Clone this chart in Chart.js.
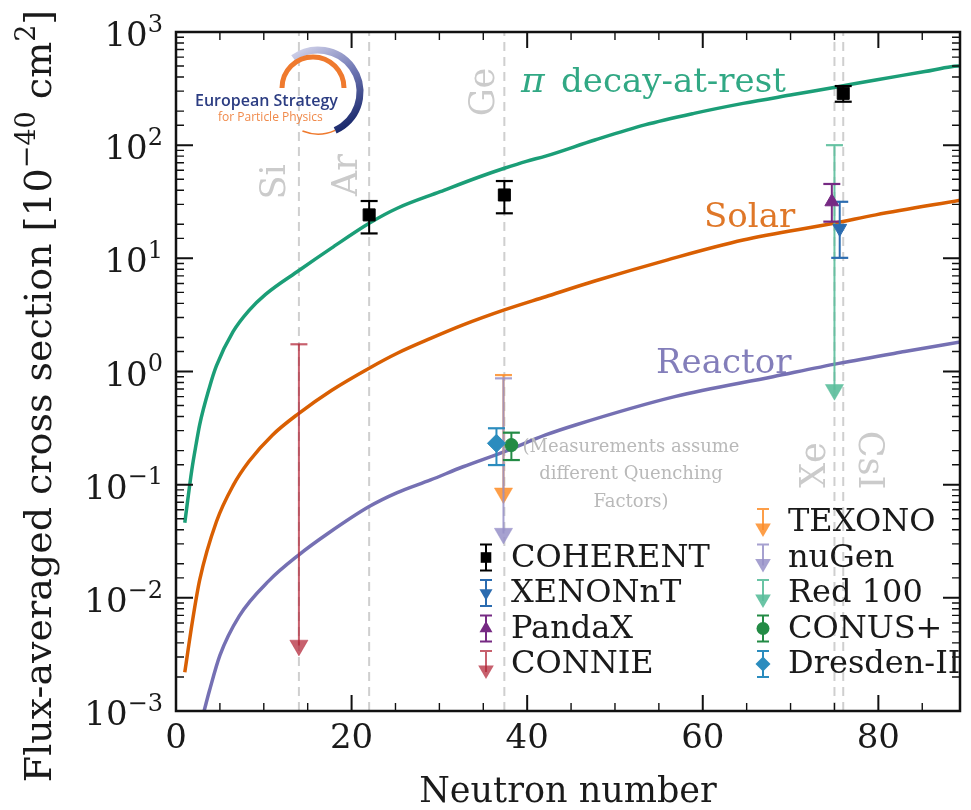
<!DOCTYPE html>
<html>
<head>
<meta charset="utf-8">
<title>CEvNS flux-averaged cross sections</title>
<script src="https://cdn.jsdelivr.net/npm/chart.js@4.4.1/dist/chart.umd.min.js"></script>
<style>
  html, body { margin: 0; padding: 0; background: #ffffff; }
  #wrap { width: 971px; height: 810px; }
</style>
</head>
<body>
<div id="wrap"><canvas id="xsecChart" width="971" height="810"></canvas></div>
<script>
// flux-averaged cross section [1e-40 cm^2] vs neutron number, per neutrino source
var darN = [1, 1.8, 2.3, 2.7, 3.8, 4.6, 6.5, 8.3, 10.2, 14, 17.7, 22, 25.2, 30.1, 34.6, 37.4, 39.9, 42.1, 47.7, 53.4, 59, 64.6, 70.3, 75.1, 79.7, 85.3, 88.3, 89.5];
var darXsec = [0.046, 0.135, 0.23, 0.34, 0.72, 1.12, 2.25, 3.45, 4.8, 7.8, 12.3, 20.4, 27.7, 38.8, 52.6, 62.5, 72, 80, 111, 151, 191, 234, 280, 325, 377, 447, 493, 503];

var solarN = [1, 1.9, 2.7, 4.6, 6.5, 8.3, 11, 14, 17.7, 22, 25.2, 29, 32.7, 37.4, 42.1, 47.7, 56, 64.6, 75.1, 79.7, 89.5];
var solarXsec = [0.0022, 0.0064, 0.0144, 0.047, 0.098, 0.16, 0.275, 0.427, 0.68, 1.07, 1.45, 1.96, 2.58, 3.5, 4.58, 6.3, 9.7, 14.5, 20.5, 24.2, 32.8];

var reactorN = [3.2, 3.8, 5, 7.2, 10.6, 14, 17.3, 22, 25.2, 29, 32.7, 37.4, 42.1, 45.5, 56.8, 68, 75.5, 83, 89.5];
var reactorXsec = [0.001, 0.0015, 0.0031, 0.0069, 0.0142, 0.024, 0.037, 0.064, 0.085, 0.11, 0.144, 0.196, 0.275, 0.337, 0.6, 0.9, 1.18, 1.5, 1.83];

// target nuclei
var targetNames = ['Si', 'Ar', 'Ge', 'Xe', 'CsI'];
var targetN = [14, 22, 37.4, 75, 76];

// measurements (central value with error bars)
var coherentN = [22, 37.4, 76];
var coherentVal = [24.2, 36.3, 287];
var coherentLow = [16.6, 25, 242];
var coherentHigh = [32.1, 48.2, 333];

var xenonntN = [75.6];
var xenonntVal = [18.4];
var xenonntLow = [10.1];
var xenonntHigh = [31.6];

var pandaxN = [74.7];
var pandaxVal = [31.6];
var pandaxLow = [21.1];
var pandaxHigh = [45.4];

var conusN = [38.2];
var conusVal = [0.224];
var conusLow = [0.165];
var conusHigh = [0.288];

var dresdenN = [36.5];
var dresdenVal = [0.232];
var dresdenLow = [0.149];
var dresdenHigh = [0.315];

// upper limits (limit value, arrow drawn down to)
var connieN = [14];
var connieLimit = [1.74];
var connieArrow = [0.0038];

var texonoN = [37.3];
var texonoLimit = [0.93];
var texonoArrow = [0.084];

var nugenN = [37.3];
var nugenLimit = [0.87];
var nugenArrow = [0.037];

var red100N = [75];
var red100Limit = [100];
var red100Arrow = [0.69];

// axis ticks
var xMajorTicks = [0, 20, 40, 60, 80];
var yExponents = [-3, -2, -1, 0, 1, 2, 3];

var legendLeft = ['COHERENT', 'XENONnT', 'PandaX', 'CONNIE'];
var legendRight = ['TEXONO', 'nuGen', 'Red 100', 'CONUS+', 'Dresden-II'];

var serif = "'DejaVu Serif', serif";
var GREEN = '#1b9e77', ORANGE = '#d95f02', PURPLE = '#7570b3';

var looks = {
  'COHERENT':   { color: '#000000', style: 'rect', radius: 8.5 },
  'XENONnT':    { color: '#2b6cb0', style: 'triangle', radius: 8, rotation: 180 },
  'PandaX':     { color: '#762a83', style: 'triangle', radius: 8 },
  'CONNIE':     { color: 'rgba(178, 34, 52, 0.72)', limit: true },
  'TEXONO':     { color: 'rgba(253, 141, 40, 0.85)', limit: true },
  'nuGen':      { color: 'rgba(150, 145, 200, 0.85)', limit: true },
  'Red 100':    { color: 'rgba(90, 190, 155, 0.9)', limit: true },
  'CONUS+':     { color: '#238b45', style: 'circle', radius: 6.5 },
  'Dresden-II': { color: '#2b8cbe', style: 'rectRot', radius: 9 }
};

function pairs(xs, ys) {
  return xs.map(function (x, i) { return { x: x, y: ys[i] }; });
}

var datasets = [];

// dashed guide line for every target nucleus
targetN.forEach(function (n, i) {
  datasets.push({
    label: targetNames[i],
    data: [{ x: n, y: 1e-3 }, { x: n, y: 1e3 }],
    showLine: true,
    borderColor: '#cfcfcf',
    borderWidth: 2,
    borderDash: [9, 6],
    pointRadius: 0,
    order: 40
  });
});

function curve(label, xs, ys, color) {
  datasets.push({
    label: label,
    data: pairs(xs, ys),
    showLine: true,
    borderColor: color,
    borderWidth: 3.5,
    pointRadius: 0,
    cubicInterpolationMode: 'monotone',
    order: 30
  });
}
curve('pi decay-at-rest', darN, darXsec, GREEN);
curve('Solar', solarN, solarXsec, ORANGE);
curve('Reactor', reactorN, reactorXsec, PURPLE);

function errorBars(name, xs, lows, highs) {
  var color = looks[name].color;
  xs.forEach(function (n, i) {
    datasets.push({
      label: name + ' band',
      data: [{ x: n, y: lows[i] }, { x: n, y: highs[i] }],
      showLine: true,
      borderColor: color,
      borderWidth: 2,
      pointStyle: 'line',
      pointRadius: 8.5,
      pointBorderWidth: 2.2,
      pointBorderColor: color,
      pointBackgroundColor: color,
      order: 10
    });
  });
}

function markers(name, xs, vals) {
  var lk = looks[name];
  datasets.push({
    label: name,
    data: pairs(xs, vals),
    pointStyle: lk.style,
    pointRadius: lk.radius,
    pointRotation: lk.rotation || 0,
    pointBackgroundColor: lk.color,
    pointBorderColor: lk.color,
    pointBorderWidth: 1,
    order: 5
  });
}

function upperLimits(name, xs, limits, arrows) {
  var color = looks[name].color;
  xs.forEach(function (n, i) {
    datasets.push({
      label: name,
      data: [{ x: n, y: arrows[i] }, { x: n, y: limits[i] }],
      showLine: true,
      borderColor: color,
      borderWidth: 2,
      pointStyle: ['triangle', 'line'],
      pointRotation: [180, 0],
      pointRadius: [10.5, 8.5],
      pointBorderWidth: [0.5, 2.2],
      pointBorderColor: color,
      pointBackgroundColor: color,
      order: 12
    });
  });
}

upperLimits('CONNIE', connieN, connieLimit, connieArrow);
upperLimits('nuGen', nugenN, nugenLimit, nugenArrow);
upperLimits('TEXONO', texonoN, texonoLimit, texonoArrow);
upperLimits('Red 100', red100N, red100Limit, red100Arrow);

errorBars('COHERENT', coherentN, coherentLow, coherentHigh);
markers('COHERENT', coherentN, coherentVal);
errorBars('XENONnT', xenonntN, xenonntLow, xenonntHigh);
markers('XENONnT', xenonntN, xenonntVal);
errorBars('PandaX', pandaxN, pandaxLow, pandaxHigh);
markers('PandaX', pandaxN, pandaxVal);
errorBars('Dresden-II', dresdenN, dresdenLow, dresdenHigh);
markers('Dresden-II', dresdenN, dresdenVal);
errorBars('CONUS+', conusN, conusLow, conusHigh);
markers('CONUS+', conusN, conusVal);

// small shape drawer for the legend glyphs
function glyph(c, style, x, y, r, rot) {
  c.beginPath();
  if (style === 'rect') {
    var s = r * Math.SQRT1_2;
    c.rect(x - s, y - s, 2 * s, 2 * s);
  } else if (style === 'circle') {
    c.arc(x, y, r, 0, Math.PI * 2);
  } else if (style === 'rectRot') {
    c.moveTo(x, y - r); c.lineTo(x + r, y); c.lineTo(x, y + r); c.lineTo(x - r, y); c.closePath();
  } else if (style === 'triangle') {
    var a = (rot || 0) * Math.PI / 180;
    for (var k = 0; k < 3; k++) {
      var ang = a + k * 2 * Math.PI / 3;
      var px = x + Math.sin(ang) * r, py = y - Math.cos(ang) * r;
      if (k === 0) c.moveTo(px, py); else c.lineTo(px, py);
    }
    c.closePath();
  }
  c.fill();
}

function supText(c, parts, x, y, size) {
  // parts: [text, isSuperscript]; drawn left to right from x on baseline y
  var cx = x;
  parts.forEach(function (p) {
    c.font = (p[1] ? Math.round(size * 0.7) : size) + 'px ' + serif;
    c.fillText(p[0], cx, p[1] ? y - size * 0.42 : y);
    cx += c.measureText(p[0]).width;
  });
  return cx - x;
}

function supWidth(c, parts, size) {
  var w = 0;
  parts.forEach(function (p) {
    c.font = (p[1] ? Math.round(size * 0.7) : size) + 'px ' + serif;
    w += c.measureText(p[0]).width;
  });
  return w;
}

var decorations = {
  id: 'decorations',
  afterDatasetsDraw: function (chart) {
    var c = chart.ctx, a = chart.chartArea, xs = chart.scales.x, ys = chart.scales.y;
    c.save();

    // inward ticks on all four spines
    c.strokeStyle = '#111';
    ys.ticks.forEach(function (t) {
      var p = ys.getPixelForValue(t.value);
      var e = Math.log10(t.value);
      var major = Math.abs(e - Math.round(e)) < 1e-6;
      var len = major ? 17 : 8;
      c.lineWidth = major ? 2 : 1.4;
      c.beginPath();
      c.moveTo(a.left, p); c.lineTo(a.left + len, p);
      c.moveTo(a.right, p); c.lineTo(a.right - len, p);
      c.stroke();
    });
    xs.ticks.forEach(function (t) {
      var p = xs.getPixelForValue(t.value);
      var major = xMajorTicks.indexOf(t.value) >= 0;
      var len = major ? 16 : 8;
      c.lineWidth = major ? 2 : 1.4;
      c.beginPath();
      c.moveTo(p, a.bottom); c.lineTo(p, a.bottom - len);
      c.moveTo(p, a.top); c.lineTo(p, a.top + len);
      c.stroke();
    });
    c.lineWidth = 2.5;
    c.strokeRect(a.left, a.top, a.right - a.left, a.bottom - a.top);

    // y tick labels 10^n
    c.fillStyle = '#1a1a1a';
    c.textBaseline = 'alphabetic';
    c.textAlign = 'left';
    yExponents.forEach(function (e) {
      var p = ys.getPixelForValue(Math.pow(10, e));
      var parts = [['10', false], [e < 0 ? '\u2212' + (-e) : String(e), true]];
      var w = supWidth(c, parts, 34);
      supText(c, parts, a.left - 13 - w, p + 14, 34);
    });

    // y axis title
    var title = [['Flux-averaged cross section [10', false], ['\u221240', true], [' cm', false], ['2', true], [']', false]];
    c.save();
    c.translate(51, 396);
    c.rotate(-Math.PI / 2);
    var tw = supWidth(c, title, 38);
    supText(c, title, -tw / 2, 0, 38);
    c.restore();

    // target nucleus names along the guide lines
    c.fillStyle = '#cbcbcb';
    c.font = '35px ' + serif;
    c.textAlign = 'center';
    c.textBaseline = 'middle';
    var namePos = [[-23, 182, -1], [-21, 175, -1], [-19, 92, -1], [-19, 465, -1], [25, 460, 1]];
    targetN.forEach(function (n, i) {
      var px = xs.getPixelForValue(n) + namePos[i][0];
      c.save();
      c.translate(px, namePos[i][1]);
      c.rotate(namePos[i][2] * Math.PI / 2);
      c.fillText(targetNames[i], 0, 0);
      c.restore();
    });

    // curve labels
    c.textAlign = 'left';
    c.textBaseline = 'alphabetic';
    c.fillStyle = 'rgba(27, 158, 119, 0.9)';
    c.font = 'italic 36px ' + serif;
    c.fillText('\u03c0', 521, 92);
    c.font = '34px ' + serif;
    c.fillText('decay-at-rest', 561, 92);
    c.fillStyle = 'rgba(217, 95, 2, 0.85)';
    c.fillText('Solar', 704, 227);
    c.fillStyle = 'rgba(117, 112, 179, 0.9)';
    c.fillText('Reactor', 656, 373);

    // quenching note
    c.fillStyle = '#b9b9b9';
    c.font = '18px ' + serif;
    c.textAlign = 'center';
    c.textBaseline = 'middle';
    c.fillText('(Measurements assume', 631, 447);
    c.fillText('different Quenching', 631, 474);
    c.fillText('Factors)', 631, 502);

    c.restore();
  },
  afterDraw: function (chart) {
    var c = chart.ctx;
    c.save();

    // European Strategy logo
    var grad = c.createLinearGradient(295, 50, 340, 130);
    grad.addColorStop(0, '#d2d3ea');
    grad.addColorStop(0.5, '#6f77b4');
    grad.addColorStop(1, '#1c2b6e');
    c.strokeStyle = grad;
    c.lineWidth = 7;
    c.beginPath();
    c.arc(318, 92, 42, -2.2, 1.15);
    c.stroke();
    c.strokeStyle = '#ef7a2e';
    c.lineWidth = 5;
    c.beginPath();
    c.arc(313, 88, 31, Math.PI, 2 * Math.PI);
    c.stroke();
    c.lineWidth = 1.5;
    c.beginPath();
    c.arc(318, 92, 42, 1.15, 1.95);
    c.stroke();
    c.textAlign = 'left';
    c.textBaseline = 'alphabetic';
    c.fillStyle = '#2c3d82';
    c.font = '600 16px "Open Sans"';
    c.fillText('European Strategy', 195, 106);
    c.fillStyle = '#f08a4b';
    c.font = '12px "Open Sans"';
    c.fillText('for Particle Physics', 218, 121);

    // legend, two columns aligned at the bottom row
    function entry(name, mx, my) {
      var lk = looks[name];
      c.strokeStyle = lk.color;
      c.fillStyle = lk.color;
      c.lineWidth = 2;
      c.beginPath();
      c.moveTo(mx, my - 13); c.lineTo(mx, lk.limit ? my + 8 : my + 13);
      c.moveTo(mx - 6, my - 13); c.lineTo(mx + 6, my - 13);
      if (!lk.limit) { c.moveTo(mx - 6, my + 13); c.lineTo(mx + 6, my + 13); }
      c.stroke();
      if (lk.limit) glyph(c, 'triangle', mx, my + 6, 9, 180);
      else glyph(c, lk.style, mx, my, Math.min(lk.radius, 7.5), lk.rotation);
      c.fillStyle = '#1a1a1a';
      c.font = '32px ' + serif;
      c.textBaseline = 'middle';
      c.fillText(name, mx + 25, my + 1);
    }
    var step = 35.5, base = 664;
    legendLeft.forEach(function (name, i) {
      entry(name, 486, base - (legendLeft.length - 1 - i) * step);
    });
    legendRight.forEach(function (name, i) {
      entry(name, 763, base - (legendRight.length - 1 - i) * step);
    });

    c.restore();
  }
};

new Chart(document.getElementById('xsecChart').getContext('2d'), {
  type: 'scatter',
  data: { datasets: datasets },
  options: {
    responsive: false,
    animation: false,
    devicePixelRatio: 1,
    events: [],
    layout: { padding: { top: 32, right: 1, left: 0, bottom: 0 } },
    plugins: {
      legend: { display: false },
      tooltip: { enabled: false }
    },
    scales: {
      x: {
        type: 'linear',
        min: 0,
        max: 89.3,
        afterFit: function (s) { s.height = 99; },
        grid: { display: false, drawTicks: false },
        border: { display: false },
        ticks: {
          stepSize: 5,
          includeBounds: false,
          autoSkip: false,
          maxRotation: 0,
          padding: 8,
          color: '#1a1a1a',
          font: { family: serif, size: 34 },
          callback: function (v) { return xMajorTicks.indexOf(v) >= 0 ? String(v) : ''; }
        },
        title: {
          display: true,
          text: 'Neutron number',
          color: '#1a1a1a',
          font: { family: serif, size: 35, lineHeight: 1 },
          padding: 0
        }
      },
      y: {
        type: 'logarithmic',
        min: 1e-3,
        max: 1e3,
        afterFit: function (s) { s.width = 176; },
        grid: { display: false, drawTicks: false },
        border: { display: false },
        ticks: { display: false }
      }
    }
  },
  plugins: [decorations]
});
</script>
</body>
</html>
